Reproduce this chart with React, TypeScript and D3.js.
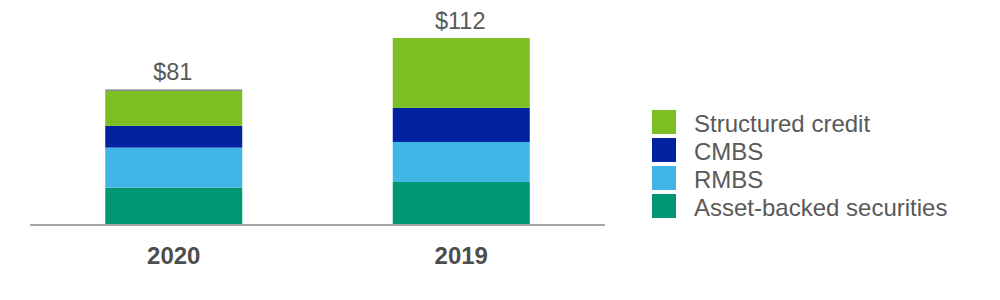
import React from "react";
import * as d3 from "d3";

const years = ["2020", "2019"];
const totals = [81, 112];
const totalLabels = ["$81", "$112"];
const seriesNames = ["Asset-backed securities", "RMBS", "CMBS", "Structured credit", "Other"];
const assetBacked = [21.9, 25.3];
const rmbs = [24.1, 24.1];
const cmbs = [13.1, 20.5];
const structuredCredit = [21.1, 42.1];
const other = [0.8, 0];
const seriesColors = ["#009775", "#41b6e6", "#0021a0", "#7bbf22", "#75787b"];
const legendOrder = ["Structured credit", "CMBS", "RMBS", "Asset-backed securities"];

const W = 1000;
const H = 300;

export default function App() {
  const seriesValues = [assetBacked, rmbs, cmbs, structuredCredit, other];
  const rows = years.map((y, i) => {
    const r: any = { year: y };
    seriesNames.forEach((s, k) => (r[s] = seriesValues[k][i]));
    return r;
  });
  const stacked = d3.stack<any>().keys(seriesNames)(rows);

  const x = d3.scaleBand<string>().domain(years).range([30, 605]).paddingInner(0.5235).paddingOuter(0.2617);
  const y = d3.scaleLinear().domain([0, 112]).range([224, 38]);
  const color = d3.scaleOrdinal<string, string>().domain(seriesNames).range(seriesColors);

  const font = "'Liberation Sans', Arial, Helvetica, sans-serif";
  const legendY = d3.scaleBand<string>().domain(legendOrder).range([110, 222]).padding(0);

  return (
    <svg width={W} height={H} style={{ position: "absolute", left: 0, top: 0, background: "#fff" }}>
      {stacked.map((layer) => (
        <g key={layer.key} fill={color(layer.key)}>
          {layer.map((d, i) => (
            <rect
              key={i}
              x={x(years[i])}
              width={x.bandwidth()}
              y={y(d[1])}
              height={Math.max(0, y(d[0]) - y(d[1]))}
            />
          ))}
        </g>
      ))}
      <line x1={30} x2={605} y1={225} y2={225} stroke="#a6a6a6" strokeWidth={2} />
      {years.map((yr, i) => (
        <text
          key={yr}
          x={x(yr)! + x.bandwidth() / 2 - 1}
          y={y(totals[i]) - 9}
          textAnchor="middle"
          fontFamily={font}
          fontSize={23.5}
          fill="#595959"
        >
          {totalLabels[i]}
        </text>
      ))}
      {years.map((yr) => (
        <text
          key={"l" + yr}
          x={x(yr)! + x.bandwidth() / 2}
          y={264}
          textAnchor="middle"
          fontFamily={font}
          fontSize={24}
          fontWeight="bold"
          fill="#4d4d4f"
        >
          {yr}
        </text>
      ))}
      {legendOrder.map((name) => (
        <g key={name} transform={`translate(652, ${legendY(name)})`}>
          <rect width={24} height={24} fill={color(name)} />
          <text x={42} y={21.5} fontFamily={font} fontSize={24} fill="#595959">
            {name}
          </text>
        </g>
      ))}
    </svg>
  );
}
